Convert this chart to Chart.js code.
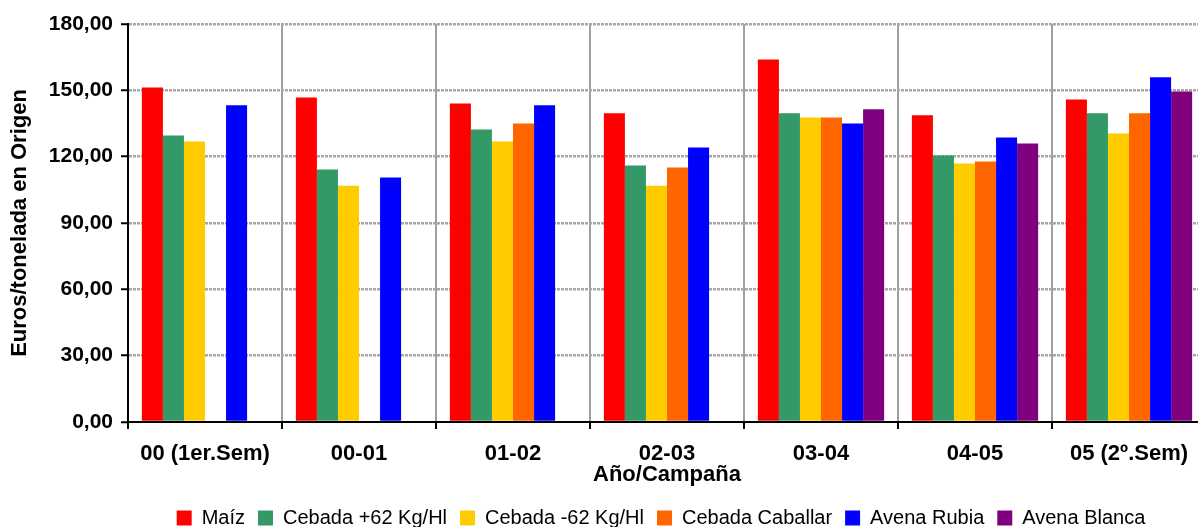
<!DOCTYPE html>
<html><head><meta charset="utf-8">
<script src="https://cdn.jsdelivr.net/npm/chart.js@4"></script>
<style>
html,body{margin:0;padding:0;overflow:hidden;background:#fff}
#wrap{position:absolute;left:0;top:0;width:1214px;height:538px}
</style></head><body>
<div id="wrap"><canvas id="c"></canvas></div>
<script>
const categories = ['00 (1er.Sem)','00-01','01-02','02-03','03-04','04-05','05 (2º.Sem)'];
const maiz = [151.3,146.8,144.1,139.6,164.0,138.7,145.9];
const cebadaMas62 = [129.6,114.2,132.3,116.0,139.6,120.5,139.6];
const cebadaMenos62 = [126.9,106.9,126.9,106.9,137.7,116.9,130.5];
const cebadaCaballar = [null,null,135.0,115.1,137.7,117.8,139.6];
const avenaRubia = [143.2,110.6,143.2,124.2,135.0,128.7,155.9];
const avenaBlanca = [null,null,null,null,141.4,126.0,149.5];
const seriesNames = ['Maíz','Cebada +62 Kg/Hl','Cebada -62 Kg/Hl','Cebada Caballar','Avena Rubia','Avena Blanca'];
const seriesColors = ['#FF0000','#339966','#FFCC00','#FF6600','#0000FF','#800080'];
const yMin = 0, yMax = 180, yStep = 30;

const FONT = '"Liberation Sans", Arial, sans-serif';
const values = [maiz, cebadaMas62, cebadaMenos62, cebadaCaballar, avenaRubia, avenaBlanca];

const legendShift = {
  id: 'legendShift',
  afterLayout(chart) {
    const lg = chart.legend;
    if (lg) { lg.left = chart.chartArea.left; lg.right = chart.chartArea.right - 12; }
  }
};

new Chart(document.getElementById('c'), {
  type: 'bar',
  data: {
    labels: categories,
    datasets: values.map((v, i) => ({
      label: seriesNames[i],
      data: v,
      backgroundColor: seriesColors[i],
      borderWidth: 0,
      barPercentage: 1,
      categoryPercentage: 0.82
    }))
  },
  options: {
    responsive: true,
    maintainAspectRatio: false,
    animation: false,
    layout: { padding: { top: 24, right: 8, left: 0, bottom: 0 } },
    plugins: {
      tooltip: { enabled: false },
      legend: {
        position: 'bottom',
        labels: {
          boxWidth: 15, boxHeight: 15, padding: 13,
          color: '#000',
          font: { family: FONT, size: 20 }
        }
      }
    },
    scales: {
      x: {
        afterFit(s) { s.height = 73; },
        grid: {
          offset: true,
          color: (c) => (c.index === 0 ? 'rgba(0,0,0,0)' : '#a0a0a0'),
          lineWidth: 2,
          tickColor: '#000', tickLength: 7, tickWidth: 2
        },
        border: { color: '#000', width: 2 },
        ticks: {
          color: '#000', padding: 12, maxRotation: 0, autoSkip: false,
          font: { family: FONT, size: 22, weight: 'bold' }
        },
        title: {
          display: true, text: 'Año/Campaña', color: '#000',
          padding: { top: 0, bottom: 7 },
          font: { family: FONT, size: 22, weight: 'bold' }
        }
      },
      y: {
        min: yMin, max: yMax,
        afterFit(s) { s.width = 128; },
        grid: {
          color: (c) => (c.tick && c.tick.value === 0 ? 'rgba(0,0,0,0)' : '#a8a8a8'),
          lineWidth: 2.5,
          tickColor: '#000', tickLength: 7, tickWidth: 2, tickBorderDash: []
        },
        border: { color: '#000', width: 2, dash: [3, 1] },
        ticks: {
          stepSize: yStep, color: '#000', padding: 8,
          font: { family: FONT, size: 21, weight: 'bold' },
          callback: (v) => Number(v).toFixed(2).replace('.', ',')
        },
        title: {
          display: true, text: 'Euros/tonelada en Origen', color: '#000',
          padding: { top: 7, bottom: 0 },
          font: { family: FONT, size: 22, weight: 'bold' }
        }
      }
    }
  },
  plugins: [legendShift]
});
</script>
</body></html>
